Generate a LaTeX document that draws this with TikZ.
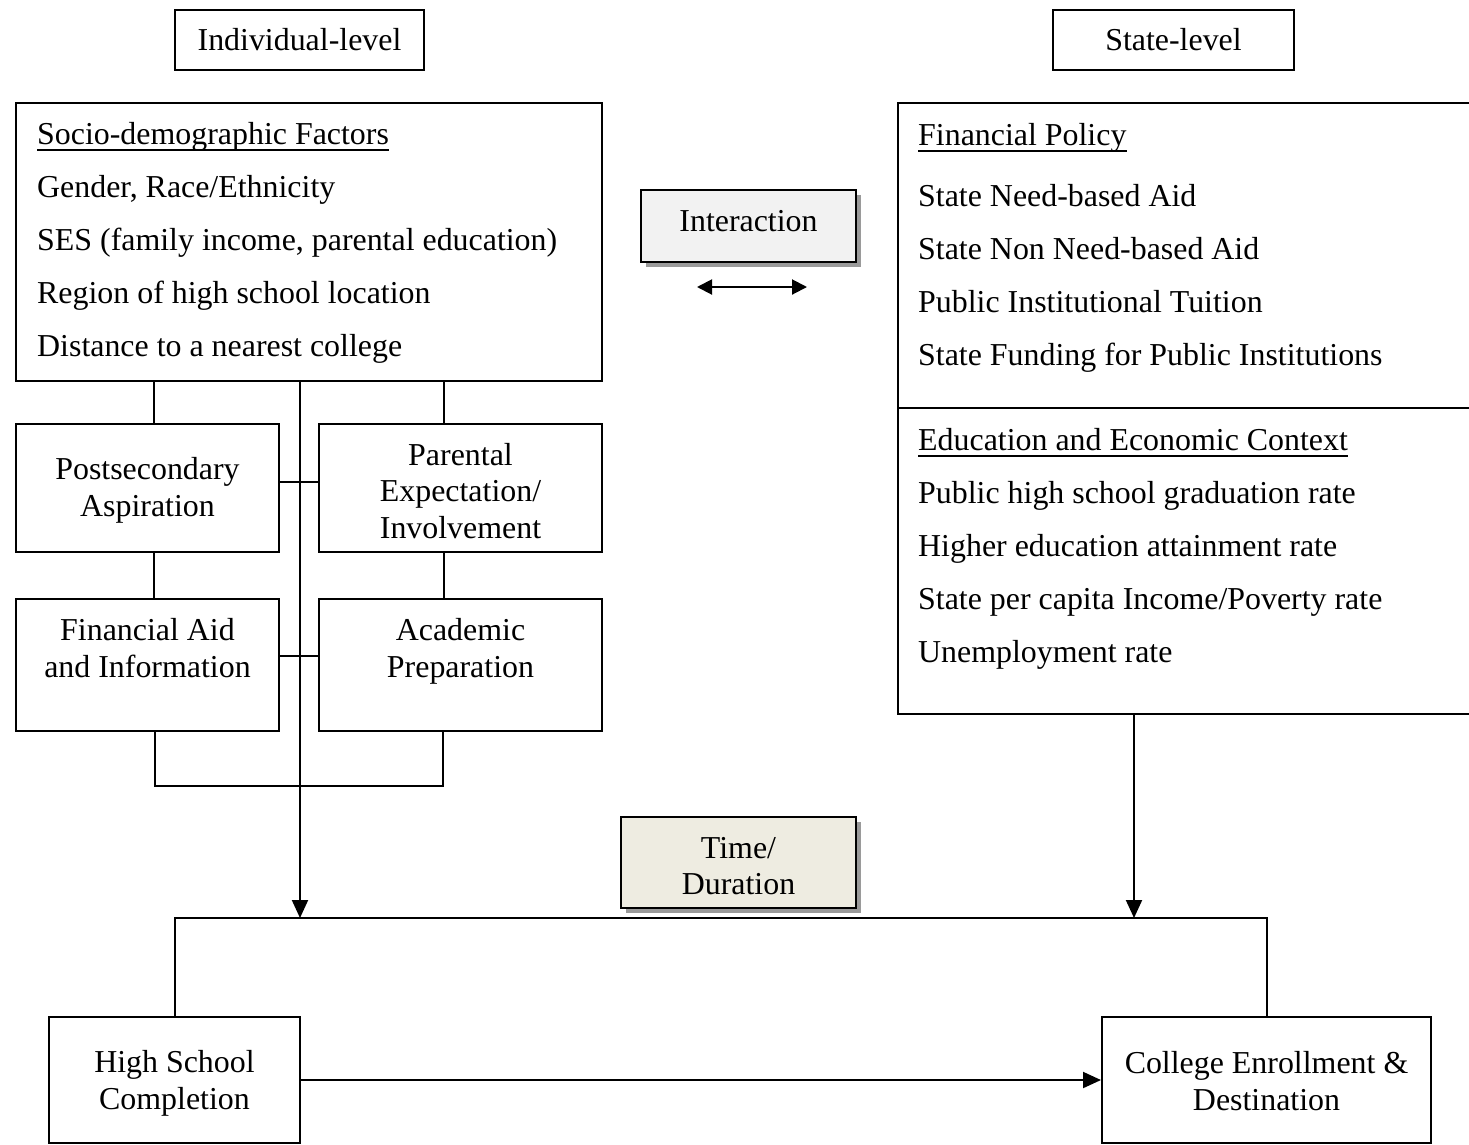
\documentclass[tikz,border=0pt]{standalone}
\usepackage{fontspec}
\setmainfont{Liberation Serif}
\usetikzlibrary{arrows.meta,shadows}
\definecolor{intergray}{HTML}{F2F2F2}
\definecolor{timebeige}{HTML}{EEECE1}
\definecolor{shadowgray}{HTML}{9A9A9A}
\begin{document}
\begin{tikzpicture}[x=1pt,y=-1pt,
  every node/.style={font=\fontsize{31.9}{36.8}\selectfont},
  box/.style={draw,line width=2pt,inner sep=0pt,align=center},
  txt/.style={inner sep=0pt,anchor=base west},
  ctext/.style={inner sep=0pt,align=center},
  ln/.style={line width=2pt},
  ul/.style={line width=1.8pt},
  arr/.style={line width=2pt,-{Triangle[length=18pt,width=16pt]}},
  darr/.style={line width=2pt,{Triangle[length=15pt,width=15pt]}-{Triangle[length=15pt,width=15pt]}},
  shadowed/.style={drop shadow={shadow xshift=5pt,shadow yshift=-5pt,fill=shadowgray,opacity=1}}
]
\useasboundingbox (0,0) rectangle (1469,1144);

% level headers
\node[box,minimum width=249pt,minimum height=60pt] (indiv) at (299.5,40) {Individual-level};
\node[box,minimum width=241pt,minimum height=60pt] (state) at (1173.5,40) {State-level};

% socio-demographic box
\node[box,minimum width=586pt,minimum height=278pt] (socio) at (309,242) {};
\node[txt] (s1) at (37,144) {Socio-demographic Factors};
\draw[ul] ([yshift=-6pt]s1.base west) -- ([yshift=-6pt]s1.base east);
\node[txt] (s2) at (37,197) {Gender, Race/Ethnicity};
\node[txt] (s3) at (37,250) {SES (family income, parental education)};
\node[txt] (s4) at (37,303) {Region of high school location};
\node[txt] (s5) at (37,356) {Distance to a nearest college};

% state box (runs off the right edge)
\draw[ln] (1469,103) -- (898,103) -- (898,714) -- (1469,714);
\draw[ln] (898,408) -- (1469,408);
\node[txt] (f1) at (918,145) {Financial Policy};
\draw[ul] ([yshift=-6pt]f1.base west) -- ([yshift=-6pt]f1.base east);
\node[txt] (f2) at (918,206) {State Need-based Aid};
\node[txt] (f3) at (918,259) {State Non Need-based Aid};
\node[txt] (f4) at (918,312) {Public Institutional Tuition};
\node[txt] (f5) at (918,365) {State Funding for Public Institutions};
\node[txt] (e1) at (918,450) {Education and Economic Context};
\draw[ul] ([yshift=-6pt]e1.base west) -- ([yshift=-6pt]e1.base east);
\node[txt] (e2) at (918,503) {Public high school graduation rate};
\node[txt] (e3) at (918,556) {Higher education attainment rate};
\node[txt] (e4) at (918,609) {State per capita Income/Poverty rate};
\node[txt] (e5) at (918,662) {Unemployment rate};
\coordinate (stateS) at (1134,714);

% interaction
\node[box,fill=intergray,shadowed,minimum width=215pt,minimum height=72pt] (inter) at (748.5,226) {};
\node[ctext] (intertxt) at (748.5,221) {Interaction};
\coordinate (iaL) at (697,287);
\coordinate (iaR) at (807,287);
\draw[darr] (iaL) -- (iaR);

% individual factor boxes
\node[box,minimum width=263pt,minimum height=128pt] (ps) at (147.5,488) {};
\node[ctext] (pstxt) at (147.5,490) {Postsecondary\\Aspiration};
\node[box,minimum width=283pt,minimum height=128pt] (pe) at (460.5,488) {};
\node[ctext] (petxt) at (460.5,491) {Parental\\Expectation/\\Involvement};
\node[box,minimum width=263pt,minimum height=132pt] (fa) at (147.5,665) {};
\node[ctext] (fatxt) at (147.5,648) {Financial Aid\\and Information};
\node[box,minimum width=283pt,minimum height=132pt] (ap) at (460.5,665) {};
\node[ctext] (aptxt) at (460.5,651) {Academic\\Preparation};

% connectors among individual boxes
\draw[ln] (socio.south -| 154,0) -- (ps.north -| 154,0);
\draw[ln] (socio.south -| 444,0) -- (pe.north -| 444,0);
\draw[ln] (ps.south -| 154,0) -- (fa.north -| 154,0);
\draw[ln] (pe.south -| 444,0) -- (ap.north -| 444,0);
\draw[ln] (fa.south -| 155,0) -- (155,786) -- (443,786) -- (ap.south -| 443,0);
\draw[ln] (ps.east |- 0,482) -- (pe.west |- 0,482);
\draw[ln] (fa.east |- 0,656) -- (ap.west |- 0,656);

% time / duration
\node[box,fill=timebeige,shadowed,minimum width=235pt,minimum height=91pt] (time) at (738.5,862.5) {};
\node[ctext] (timetxt) at (738.5,866) {Time/\\Duration};

% bottom boxes
\node[box,minimum width=251pt,minimum height=126pt] (hs) at (174.5,1080) {};
\node[ctext] (hstxt) at (174.5,1083) {High School\\Completion};
\node[box,minimum width=329pt,minimum height=126pt] (cc) at (1266.5,1080) {};
\node[ctext] (cctxt) at (1266.5,1081) {College Enrollment \&\\Destination};

% bracket over bottom boxes
\coordinate (barL) at (300,918);
\coordinate (barR) at (1134,918);
\draw[ln] (hs.north) -- (hs.north |- barL) -- (cc.north |- barL) -- (cc.north);

% main arrows
\draw[arr] (socio.south -| barL) -- (barL);
\draw[arr] (stateS) -- (barR);
\draw[arr] (hs.east) -- (cc.west);
\end{tikzpicture}
\end{document}
